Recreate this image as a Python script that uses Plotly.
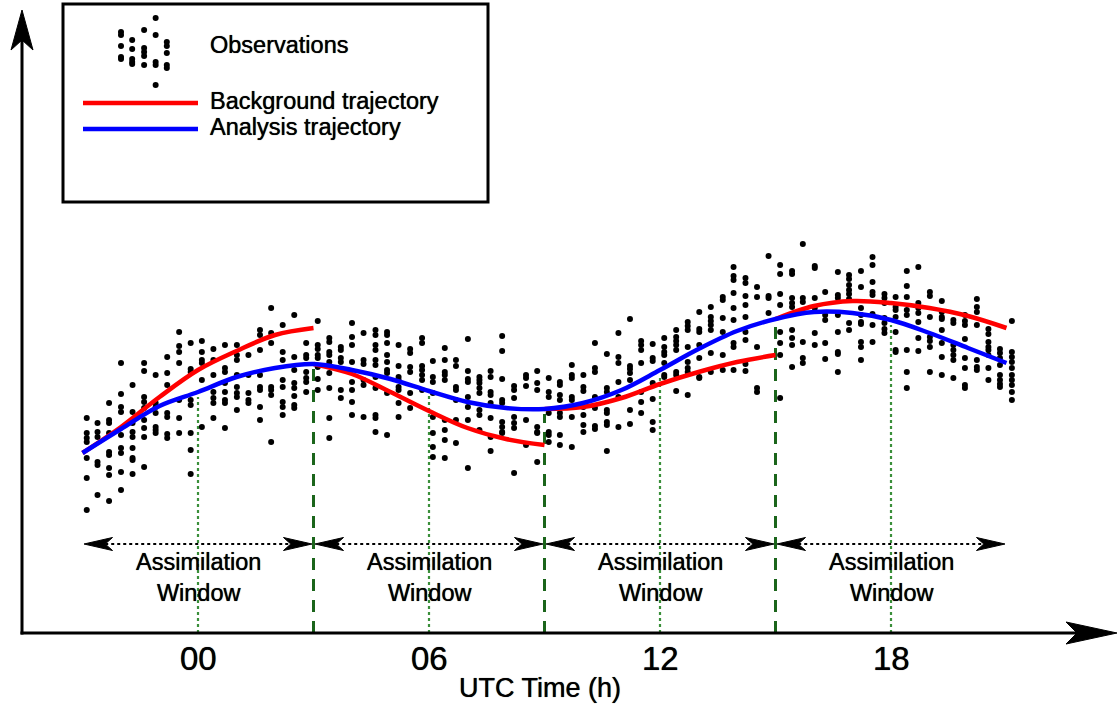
import plotly.graph_objects as go

W, H = 1117, 706

# ---------------------------------------------------------------- data
hours = list(range(-3, 22))
analysis = [1.80, 2.04, 2.27, 2.41, 2.56, 2.65, 2.69, 2.63, 2.54, 2.42, 2.31,
            2.25, 2.24, 2.30, 2.43, 2.63, 2.84, 3.02, 3.14, 3.21, 3.20, 3.13,
            3.00, 2.85, 2.70]

# background trajectory, one forecast per assimilation window
bg_hours = [list(range(-3, 4)), list(range(3, 10)), list(range(9, 16)), list(range(15, 22))]
bg_values = [
    [1.80, 2.06, 2.36, 2.63, 2.82, 2.98, 3.05],
    [2.69, 2.59, 2.41, 2.22, 2.05, 1.94, 1.88],
    [2.24, 2.26, 2.35, 2.49, 2.61, 2.71, 2.78],
    [3.14, 3.27, 3.32, 3.30, 3.25, 3.17, 3.05],
]

obs_hours = [-2.89, -2.61, -2.31, -2.00, -1.70, -1.40, -1.10, -0.80, -0.49, -0.19,
             0.10, 0.40, 0.70, 1.01, 1.31, 1.61, 1.90, 2.20, 2.50, 2.81,
             3.11, 3.41, 3.71, 4.00, 4.30, 4.61, 4.91, 5.21, 5.51, 5.82,
             6.10, 6.41, 6.70, 7.01, 7.31, 7.60, 7.90, 8.21, 8.52, 8.81,
             9.11, 9.40, 9.71, 10.01, 10.31, 10.62, 10.92, 11.22, 11.51, 11.81,
             12.11, 12.42, 12.72, 13.02, 13.32, 13.63, 13.91, 14.22, 14.52, 14.82,
             15.12, 15.43, 15.71, 16.02, 16.29, 16.62, 16.91, 17.22, 17.52, 17.83,
             18.12, 18.41, 18.71, 19.01, 19.32, 19.62, 19.92, 20.23, 20.53, 20.83,
             21.14]
obs_values = [
    [2.15, 2.00, 1.95, 1.91, 1.75, 1.55, 1.23],
    [2.10, 2.01, 1.96, 1.71, 1.68, 1.38],
    [2.30, 2.13, 2.10, 2.00, 1.81, 1.78, 1.65, 1.58, 1.32],
    [2.70, 2.39, 2.26, 2.21, 1.98, 1.85, 1.80, 1.61, 1.43],
    [2.48, 2.21, 2.10, 2.01, 1.96, 1.85, 1.75, 1.73, 1.59],
    [2.70, 2.62, 2.36, 2.31, 2.25, 2.13, 2.05, 1.96, 1.66],
    [2.58, 2.30, 2.26, 2.20, 2.06, 2.03, 2.00],
    [2.76, 2.60, 2.48, 2.20, 2.16, 1.99, 1.95],
    [3.01, 2.87, 2.81, 2.70, 2.33, 2.15, 2.00],
    [2.90, 2.64, 2.61, 2.33, 2.28, 2.00, 1.83, 1.59],
    [2.92, 2.81, 2.73, 2.70, 2.53, 2.06],
    [2.84, 2.73, 2.58, 2.41, 2.35, 2.30, 2.15],
    [2.88, 2.65, 2.61, 2.50, 2.41, 2.33, 2.30, 2.05],
    [2.88, 2.78, 2.73, 2.58, 2.46, 2.40, 2.36, 2.23],
    [2.78, 2.58, 2.40, 2.33, 2.30],
    [3.03, 2.98, 2.83, 2.58, 2.46, 2.43, 2.26, 2.13],
    [3.25, 3.00, 2.90, 2.46, 2.43, 2.38, 1.91],
    [3.08, 2.81, 2.73, 2.53, 2.46, 2.31, 2.26, 2.18],
    [3.18, 2.76, 2.63, 2.50, 2.45, 2.37, 2.28, 2.25],
    [2.90, 2.78, 2.75, 2.61, 2.55, 2.51, 2.41],
    [3.12, 2.88, 2.84, 2.78, 2.75, 2.66, 2.54, 2.43],
    [2.95, 2.91, 2.81, 2.78, 2.71, 2.60, 2.45, 2.15, 1.95],
    [2.86, 2.83, 2.75, 2.71, 2.43, 2.35],
    [3.10, 2.96, 2.88, 2.71, 2.51, 2.43, 2.31, 2.18],
    [3.00, 2.73, 2.69, 2.53, 2.48, 2.16],
    [3.03, 2.98, 2.88, 2.83, 2.73, 2.68, 2.56, 2.45, 2.18, 2.15, 2.01],
    [3.01, 2.98, 2.90, 2.78, 2.71, 2.63, 2.60, 2.40, 1.98],
    [2.88, 2.67, 2.56, 2.53, 2.46, 2.43, 2.30, 2.16],
    [2.84, 2.80, 2.66, 2.61, 2.40, 2.25],
    [2.95, 2.90, 2.67, 2.63, 2.58, 2.53, 2.43],
    [2.72, 2.56, 2.51, 2.40, 2.16, 2.00, 1.86, 1.76],
    [2.85, 2.73, 2.61, 2.58, 2.53, 2.13, 2.03, 1.93, 1.75],
    [2.73, 2.67, 2.46, 2.43, 2.33, 2.13, 1.90],
    [2.94, 2.62, 2.54, 2.51, 2.36, 2.26, 2.13, 1.65],
    [2.56, 2.53, 2.50, 2.45, 2.40, 2.23, 2.18, 2.03],
    [2.62, 2.56, 2.41, 2.38, 2.30, 2.15, 1.96, 1.82],
    [2.97, 2.82, 2.54, 2.33, 2.30, 2.11, 2.06, 2.01, 2.00],
    [2.47, 2.43, 2.35, 2.16, 2.10, 2.05, 1.60],
    [2.58, 2.55, 2.47, 2.13, 1.88],
    [2.62, 2.50, 2.43, 2.06, 2.01, 2.00, 1.71],
    [2.55, 2.41, 2.36, 2.20, 2.01, 1.98, 1.91],
    [2.51, 2.48, 2.38, 2.33, 2.20, 2.16, 1.98, 1.88],
    [2.68, 2.58, 2.55, 2.36, 2.33, 2.16, 1.86],
    [2.58, 2.46, 2.42, 2.26, 2.18, 2.08, 2.01],
    [2.90, 2.65, 2.61, 2.36, 2.25, 2.07, 2.04],
    [2.79, 2.45, 2.41, 2.23, 2.20, 2.11, 2.08, 1.82],
    [3.00, 2.76, 2.70, 2.51, 2.36, 2.06],
    [3.14, 2.67, 2.64, 2.60, 2.53, 2.23, 2.09],
    [2.92, 2.88, 2.83, 2.70, 2.41, 2.31, 2.20],
    [2.89, 2.75, 2.72, 2.50, 2.34, 2.11, 2.03],
    [2.95, 2.86, 2.81, 2.78, 2.70, 2.58, 2.56],
    [3.03, 2.96, 2.92, 2.88, 2.83, 2.61, 2.58, 2.42],
    [3.11, 3.07, 3.03, 2.86, 2.71, 2.65, 2.61, 2.38],
    [3.21, 3.04, 3.01, 2.88, 2.75, 2.56, 2.55],
    [3.26, 3.16, 3.12, 3.08, 3.03, 2.80, 2.61],
    [3.36, 3.33, 3.15, 3.01, 2.78, 2.63],
    [3.66, 3.57, 3.53, 3.40, 3.25, 3.13, 2.90, 2.86, 2.63],
    [3.55, 3.50, 3.37, 3.28, 3.16, 3.01, 2.93, 2.69, 2.62],
    [3.46, 3.36, 2.86, 2.45, 2.41],
    [3.77, 3.37, 3.35, 3.20],
    [3.68, 3.59, 3.39, 3.28, 3.01, 2.90, 2.78, 2.35],
    [3.62, 3.59, 3.35, 3.30, 3.26, 3.03, 2.95, 2.88, 2.66],
    [3.89, 3.35, 3.31, 2.91, 2.75, 2.70],
    [3.67, 3.65, 3.35, 3.25, 3.00, 2.88],
    [3.41, 3.18, 3.13, 2.90, 2.74],
    [3.61, 3.38, 3.35, 3.18, 3.01, 2.81, 2.79, 2.61],
    [3.58, 3.54, 3.48, 3.43, 3.39, 3.34, 3.10, 3.03],
    [3.62, 3.46, 3.25, 3.18, 3.11, 3.09, 2.91, 2.86, 2.73],
    [3.76, 3.68, 3.51, 3.41, 3.38, 3.19, 3.08, 2.91],
    [3.39, 3.35, 3.30, 3.15, 3.10, 3.04, 3.00],
    [3.36, 3.26, 3.23, 3.16, 3.01, 2.83, 2.81],
    [3.62, 3.47, 3.36, 3.23, 3.18, 2.83, 2.61, 2.45],
    [3.66, 3.30, 3.25, 3.20, 3.11, 2.95, 2.82],
    [3.41, 3.37, 3.16, 2.96, 2.92, 2.86, 2.61],
    [3.32, 3.21, 3.16, 3.14, 3.03, 2.90, 2.76, 2.58],
    [3.13, 3.10, 2.88, 2.83, 2.78, 2.73, 2.55],
    [3.18, 3.12, 3.08, 2.94, 2.75, 2.65, 2.48, 2.45],
    [3.34, 3.26, 3.21, 3.08, 2.73, 2.66, 2.63],
    [3.04, 2.99, 2.91, 2.86, 2.83, 2.78, 2.65, 2.53],
    [2.84, 2.80, 2.75, 2.68, 2.58, 2.53, 2.49, 2.46],
    [3.12, 2.81, 2.76, 2.71, 2.65, 2.58, 2.53, 2.48, 2.41, 2.33],
]

# small cluster of dots used as the legend symbol for observations
key_hours = [-2.00, -1.71, -1.40, -1.10, -0.81]
key_values = [
    [6.01, 5.98, 5.87, 5.76, 5.74],
    [5.93, 5.84, 5.74, 5.71, 5.69],
    [6.03, 5.85, 5.81, 5.77, 5.68],
    [6.15, 5.98, 5.71, 5.68, 5.48],
    [5.91, 5.87, 5.80, 5.68, 5.65],
]

tick_hours = [0, 6, 12, 18]
tick_labels = ["00", "06", "12", "18"]
window_edges = [-3, 3, 9, 15, 21]
window_label = "Assimilation<br>Window"

# ---------------------------------------------------------------- styling
FONT = "Liberation Sans, Arial, Helvetica, sans-serif"
SHADOW = "0px 0px 0.7px #000"
RED, BLUE = "#ff0000", "#0000ff"
DASH_GREEN, DOT_GREEN = "#1b651b", "#3a8f3a"
X_RANGE = [-198 / 38.5, (W - 198) / 38.5]
Y_RANGE = [-0.73, 6.33]
ARROW_Y = 0.89


def px(x):
    return x / W


def py(y):
    return 1 - y / H


def font(size):
    return dict(family=FONT, size=size, color="black", shadow=SHADOW)


fig = go.Figure()

# observations
ox, oy = [], []
for h, vals in zip(obs_hours, obs_values):
    ox += [h] * len(vals)
    oy += vals
fig.add_trace(go.Scatter(x=ox, y=oy, mode="markers",
                         marker=dict(color="black", size=6, line=dict(width=0)),
                         hoverinfo="skip"))

kx, ky = [], []
for h, vals in zip(key_hours, key_values):
    kx += [h] * len(vals)
    ky += vals
fig.add_trace(go.Scatter(x=kx, y=ky, mode="markers",
                         marker=dict(color="black", size=6, line=dict(width=0)),
                         hoverinfo="skip"))

# background trajectories
for hs, vs in zip(bg_hours, bg_values):
    fig.add_trace(go.Scatter(x=hs, y=vs, mode="lines",
                             line=dict(color=RED, width=4.5, shape="spline"),
                             hoverinfo="skip"))

# analysis trajectory
fig.add_trace(go.Scatter(x=hours, y=analysis, mode="lines",
                         line=dict(color=BLUE, width=4.5, shape="spline"),
                         hoverinfo="skip"))

shapes = []

# window boundaries (dashed) and window centres (dotted), up to the analysis
for h in window_edges[1:-1]:
    shapes.append(dict(type="line", xref="x", yref="y", x0=h, x1=h, y0=0,
                       y1=analysis[hours.index(h)] - 0.05,
                       line=dict(color=DASH_GREEN, width=3, dash="12px,9px"),
                       layer="below"))
for h in tick_hours:
    shapes.append(dict(type="line", xref="x", yref="y", x0=h, x1=h, y0=0,
                       y1=analysis[hours.index(h)] - 0.05,
                       line=dict(color=DOT_GREEN, width=2.2, dash="dot"),
                       layer="below"))

# window arrows
AL, AH, AN = 0.74, 0.065, 0.55
for a, b in zip(window_edges[:-1], window_edges[1:]):
    lo, hi = a + 0.04, b - 0.04
    shapes.append(dict(type="line", xref="x", yref="y", x0=lo + AN, x1=hi - AN,
                       y0=ARROW_Y, y1=ARROW_Y,
                       line=dict(color="black", width=2.2, dash="dot")))
    shapes.append(dict(type="path", xref="x", yref="y",
                       path=f"M {lo},{ARROW_Y} L {lo + AL},{ARROW_Y + AH} "
                            f"L {lo + AN},{ARROW_Y} L {lo + AL},{ARROW_Y - AH} Z",
                       fillcolor="black", line=dict(color="black", width=1)))
    shapes.append(dict(type="path", xref="x", yref="y",
                       path=f"M {hi},{ARROW_Y} L {hi - AL},{ARROW_Y + AH} "
                            f"L {hi - AN},{ARROW_Y} L {hi - AL},{ARROW_Y - AH} Z",
                       fillcolor="black", line=dict(color="black", width=1)))

# hand-drawn axes with arrow heads
shapes.append(dict(type="line", xref="paper", yref="paper",
                   x0=px(22), x1=px(22), y0=py(634.5), y1=py(40),
                   line=dict(color="black", width=3)))
shapes.append(dict(type="path", xref="paper", yref="paper",
                   path=f"M {px(22)},{py(10)} L {px(11)},{py(50)} L {px(22)},{py(40)} "
                        f"L {px(33)},{py(50)} Z",
                   fillcolor="black", line=dict(color="black", width=1)))
shapes.append(dict(type="line", xref="paper", yref="paper",
                   x0=px(20.5), x1=px(1080), y0=py(633), y1=py(633),
                   line=dict(color="black", width=3)))
shapes.append(dict(type="path", xref="paper", yref="paper",
                   path=f"M {px(1117)},{py(633)} L {px(1066)},{py(622)} L {px(1077)},{py(633)} "
                        f"L {px(1066)},{py(644)} Z",
                   fillcolor="black", line=dict(color="black", width=1)))

# legend frame and line samples
shapes.append(dict(type="rect", xref="paper", yref="paper",
                   x0=px(63), x1=px(488), y0=py(4), y1=py(202),
                   line=dict(color="black", width=3), layer="below"))
shapes.append(dict(type="line", xref="paper", yref="paper",
                   x0=px(83), x1=px(198), y0=py(103), y1=py(103),
                   line=dict(color=RED, width=4.5)))
shapes.append(dict(type="line", xref="paper", yref="paper",
                   x0=px(83), x1=px(198), y0=py(129), y1=py(129),
                   line=dict(color=BLUE, width=4.5)))

annotations = []
for h, lab in zip(tick_hours, tick_labels):
    annotations.append(dict(x=h, y=py(658), xref="x", yref="paper", text=lab,
                            showarrow=False, font=font(33),
                            xanchor="center", yanchor="middle"))
annotations.append(dict(x=px(540), y=py(688), xref="paper", yref="paper",
                        text="UTC Time (h)", showarrow=False, font=font(27),
                        xanchor="center", yanchor="middle"))
for a, b in zip(window_edges[:-1], window_edges[1:]):
    annotations.append(dict(x=(a + b) / 2, y=py(577), xref="x", yref="paper",
                            text=window_label, showarrow=False, font=font(23.5),
                            xanchor="center", yanchor="middle", align="center"))
for txt, ty in [("Observations", 45), ("Background trajectory", 101),
                ("Analysis trajectory", 127)]:
    annotations.append(dict(x=px(208), y=py(ty), xref="paper", yref="paper",
                            text=txt, showarrow=False, font=font(23.5),
                            xanchor="left", yanchor="middle"))

fig.update_layout(
    width=W, height=H,
    margin=dict(l=0, r=0, t=0, b=0),
    paper_bgcolor="white", plot_bgcolor="white",
    showlegend=False,
    xaxis=dict(range=X_RANGE, visible=False, fixedrange=True),
    yaxis=dict(range=Y_RANGE, visible=False, fixedrange=True),
    shapes=shapes, annotations=annotations,
)

fig.write_html("out.html")
